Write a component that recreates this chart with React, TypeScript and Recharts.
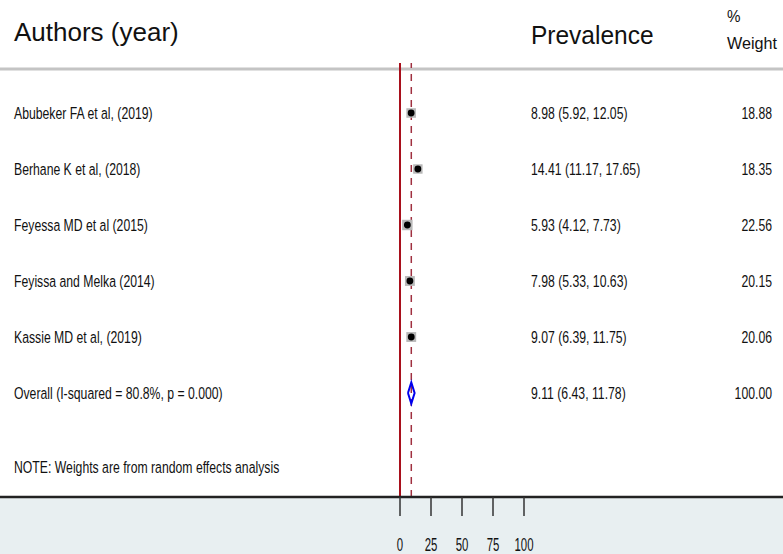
import React from 'react';
import {
  ComposedChart,
  Scatter,
  XAxis,
  YAxis,
  ReferenceLine,
  ErrorBar,
  Customized,
} from 'recharts';

const authors = [
  'Abubeker FA et al, (2019)',
  'Berhane K et al, (2018)',
  'Feyessa MD et al (2015)',
  'Feyissa and Melka (2014)',
  'Kassie MD et al, (2019)',
];
const estimates = [8.98, 14.41, 5.93, 7.98, 9.07];
const lowers = [5.92, 11.17, 4.12, 5.33, 6.39];
const uppers = [12.05, 17.65, 7.73, 10.63, 11.75];
const weights = [18.88, 18.35, 22.56, 20.15, 20.06];

const overallLabel = 'Overall  (I-squared = 80.8%, p = 0.000)';
const overallEst = 9.11;
const overallLo = 6.43;
const overallHi = 11.78;
const overallWeight = 100.0;

const noteText = 'NOTE: Weights are from random effects analysis';
const xTicks = [0, 25, 50, 75, 100];

const W = 783;
const H = 554;
const FONT = '"Liberation Sans", Arial, sans-serif';
const SX = 0.72;

const studyData = authors.map((a, i) => ({
  x: estimates[i],
  y: i,
  w: weights[i],
  err: [estimates[i] - lowers[i], uppers[i] - estimates[i]],
}));

const fmt = (v: number) => v.toFixed(2);

const textRows = [
  ...authors.map((a, i) => ({
    x: 0,
    y: i,
    label: a,
    ci: `${fmt(estimates[i])} (${fmt(lowers[i])}, ${fmt(uppers[i])})`,
    wt: fmt(weights[i]),
  })),
  {
    x: 0,
    y: authors.length,
    label: overallLabel,
    ci: `${fmt(overallEst)} (${fmt(overallLo)}, ${fmt(overallHi)})`,
    wt: fmt(overallWeight),
  },
  { x: 0, y: 6.32, label: noteText, ci: '', wt: '' },
];

const oy = authors.length;
const diamondData = [
  { x: overallLo, y: oy },
  { x: overallEst, y: oy - 0.19 },
  { x: overallHi, y: oy },
  { x: overallEst, y: oy + 0.19 },
  { x: overallLo, y: oy },
];

const Cond = ({ x, y, anchor = 'start', size = 17, sx = SX, children }: any) => (
  <g transform={`translate(${x},${y}) scale(${sx},1)`}>
    <text x={0} y={0} textAnchor={anchor} fontFamily={FONT} fontSize={size} fill="#111">
      {children}
    </text>
  </g>
);

const RowText = (props: any) => {
  const { cy, payload } = props;
  const base = cy + 6;
  return (
    <g>
      <Cond x={14} y={base}>{payload.label}</Cond>
      {payload.ci ? <Cond x={531} y={base}>{payload.ci}</Cond> : null}
      {payload.wt ? <Cond x={772} y={base} anchor="end">{payload.wt}</Cond> : null}
    </g>
  );
};

const StudyMarker = (props: any) => {
  const { cx, cy, payload } = props;
  const s = 2.2 * Math.sqrt(payload.w);
  return (
    <g>
      <rect x={cx - s / 2} y={cy - s / 2} width={s} height={s} fill="#b8b8b8" />
      <circle cx={cx} cy={cy} r={3.4} fill="#000" />
    </g>
  );
};

const Headers = () => (
  <g>
    <Cond x={14} y={41} size={26} sx={1.0}>Authors (year)</Cond>
    <Cond x={531} y={44} size={25} sx={0.98}>Prevalence</Cond>
    <Cond x={727} y={22} size={16} sx={0.95}>%</Cond>
    <Cond x={727} y={49} size={17} sx={0.95}>Weight</Cond>
  </g>
);

const XTick = (props: any) => {
  const { x, y, payload } = props;
  return <Cond x={x} y={y + 33} anchor="middle" size={19} sx={0.6}>{payload.value}</Cond>;
};

export default function App() {
  return (
    <div
      style={{
        position: 'absolute',
        left: 0,
        top: 0,
        width: W,
        height: H,
        background: 'linear-gradient(to bottom, #ffffff 0px, #ffffff 497px, #e8eff1 497px)',
      }}
    >
      <ComposedChart width={W} height={H} margin={{ top: 63, right: 0, bottom: 0, left: 0 }}>
        <XAxis
          type="number"
          dataKey="x"
          domain={[-400 / 1.24, (W - 400) / 1.24]}
          allowDataOverflow
          ticks={xTicks}
          interval={0}
          height={57}
          axisLine={{ stroke: '#222', strokeWidth: 2.5 }}
          tickLine={{ stroke: '#333', strokeWidth: 1.5 }}
          tickSize={19}
          tick={<XTick />}
        />
        <YAxis
          type="number"
          dataKey="y"
          hide
          reversed
          domain={[(63 - 113) / 56, (497 - 113) / 56]}
          allowDataOverflow
        />
        <ReferenceLine y={(69 - 113) / 56} stroke="#c4c4c4" strokeWidth={3} ifOverflow="visible" />
        <ReferenceLine x={0} stroke="#a8101c" strokeWidth={2} />
        <ReferenceLine x={overallEst} stroke="#a03040" strokeWidth={1.5} strokeDasharray="7 6" />
        <Scatter data={studyData} shape={<StudyMarker />} isAnimationActive={false}>
          <ErrorBar dataKey="err" direction="x" width={0} stroke="#000" strokeWidth={1} />
        </Scatter>
        <Scatter
          data={diamondData}
          line={{ stroke: '#0000ee', strokeWidth: 2 }}
          shape={() => <g />}
          isAnimationActive={false}
        />
        <Scatter data={textRows} shape={<RowText />} isAnimationActive={false} />
        <Customized component={Headers} />
      </ComposedChart>
    </div>
  );
}
